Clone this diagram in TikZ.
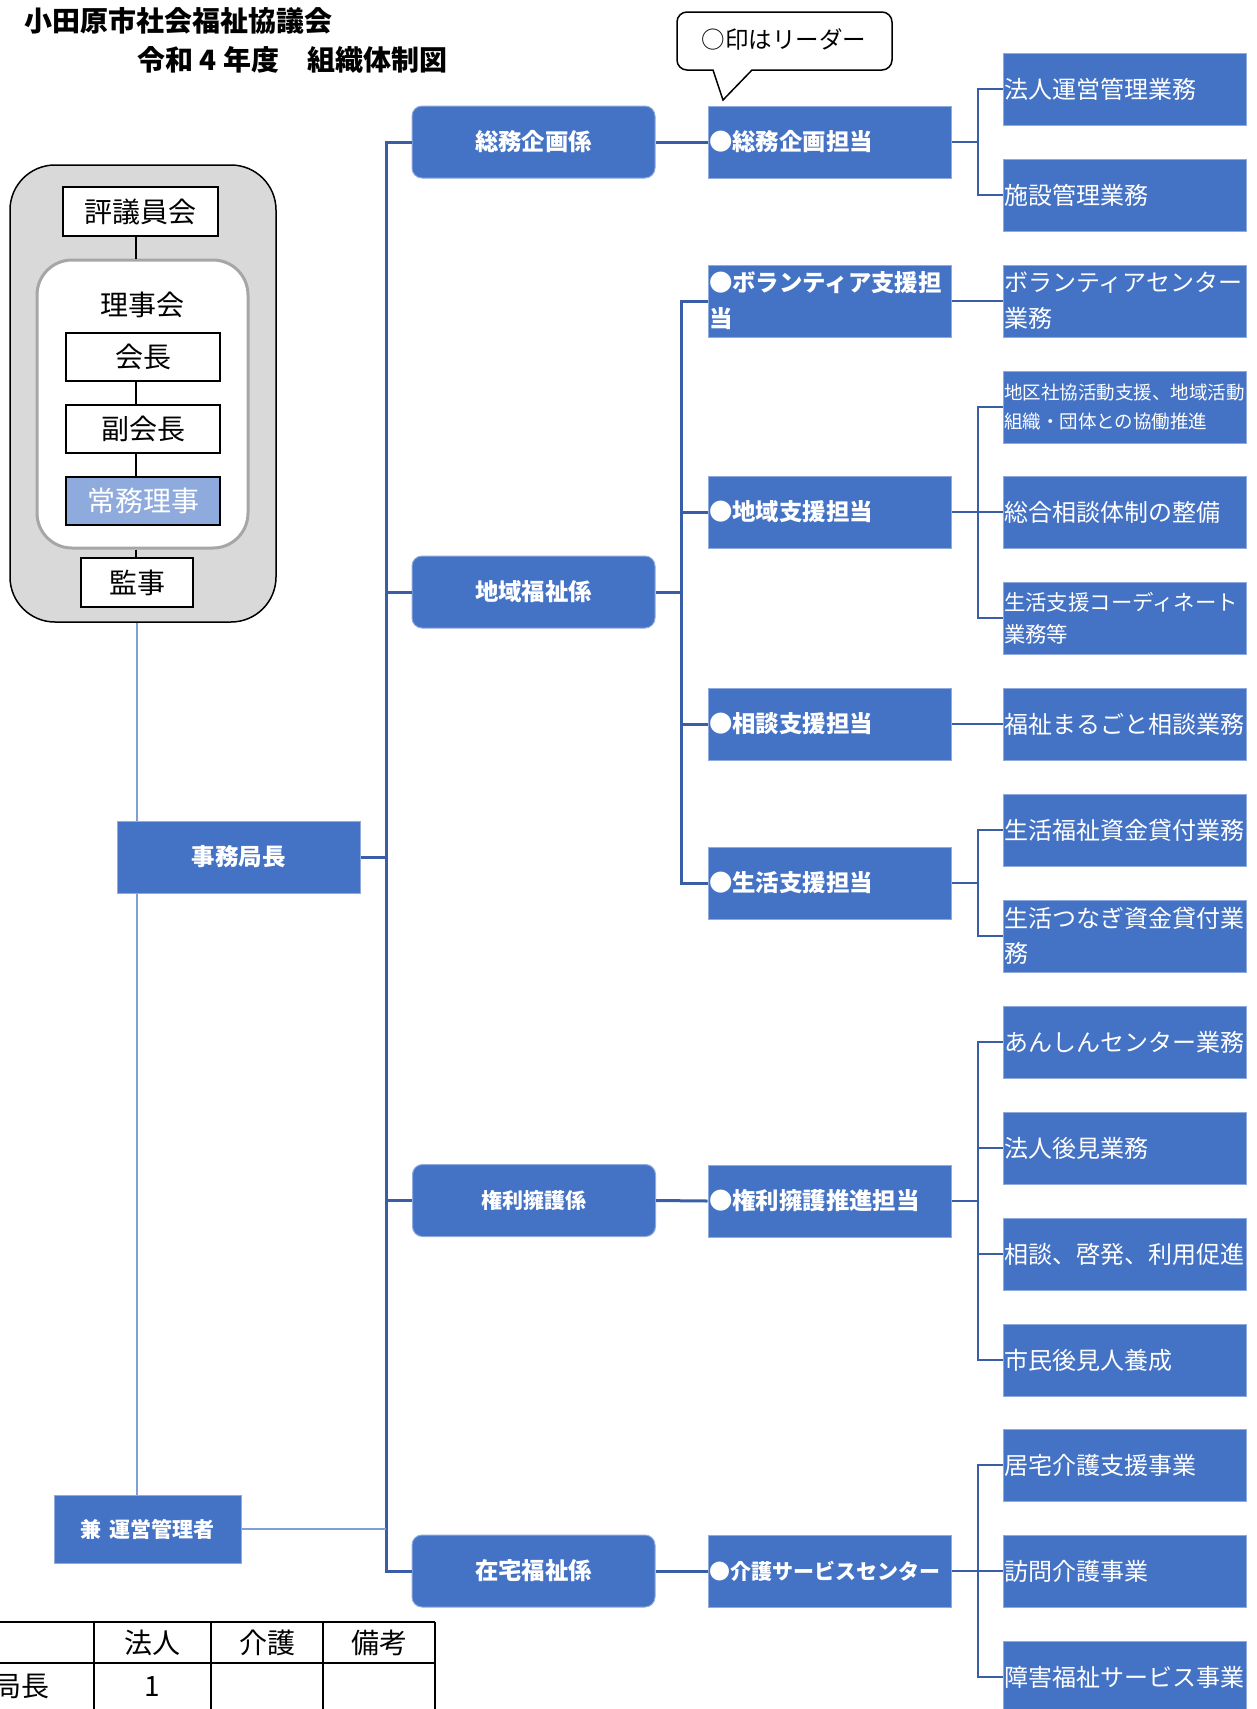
\documentclass[tikz,border=0pt]{standalone}
\usepackage{fontspec}
\newfontfamily\jp{Noto Sans CJK JP}
\definecolor{boxblue}{HTML}{4472C4}
\definecolor{edgeblue}{HTML}{8FAADC}
\definecolor{lineblue}{HTML}{3A5DA8}
\definecolor{paleblue}{HTML}{7F9FD9}
\definecolor{boardgray}{HTML}{D9D9D9}
\definecolor{rimgray}{HTML}{A6A6A6}
\tikzset{
  boardbox/.style={draw, fill=white, line width=1.5pt, inner sep=0pt,
    minimum width=154pt, minimum height=48pt, font=\jp\fontsize{28}{34}\selectfont},
  kakari/.style={draw=edgeblue, line width=1pt, fill=boxblue, rounded corners=10pt,
    text=white, minimum width=243pt, minimum height=72pt,
    font=\jp\bfseries\fontsize{23.4}{30}\selectfont},
  tanto/.style={draw=edgeblue, line width=1pt, fill=boxblue, text=white,
    minimum width=243pt, minimum height=72pt, text width=241pt, inner xsep=1pt,
    align=left, font=\jp\bfseries\fontsize{23.4}{36}\selectfont},
  gyomu/.style={tanto, font=\jp\fontsize{24}{36}\selectfont},
  link/.style={draw=lineblue, line width=3pt},
  sublink/.style={draw=lineblue, line width=2.5pt},
  thinlink/.style={draw=paleblue, line width=1.5pt},
  cell/.style={font=\jp\fontsize{28}{34}\selectfont, inner sep=0pt}
}
\begin{document}
\begin{tikzpicture}[x=1pt,y=-1pt]
  \useasboundingbox (0,0) rectangle (1257,1709);
  \clip (0,0) rectangle (1257,1709);
  \node [anchor=west, inner sep=0pt, font=\jp\bfseries\fontsize{28}{34}\selectfont] (title) at (24,21) {小田原市社会福祉協議会};
  \node [anchor=west, inner sep=0pt, font=\jp\bfseries\fontsize{28}{34}\selectfont] (subtitle) at (137,60) {令和 4 年度　組織体制図};

  \node [draw, fill=boardgray, line width=1.5pt, rounded corners=45pt, minimum width=266pt, minimum height=457pt] (board) at (143,393.5) {};
  \node [boardbox, minimum width=155pt, minimum height=49pt] (hyogi) at (140.5,211.5) {評議員会};
  \node [draw=rimgray, fill=white, line width=3pt, rounded corners=35pt, minimum width=211pt, minimum height=288pt] (riji) at (142.5,404) {};
  \node [cell] (rijikai) at (142,305) {理事会};
  \node [boardbox] (kaicho) at (143,357) {会長};
  \node [boardbox] (fuku) at (143,429) {副会長};
  \node [boardbox, fill=edgeblue, text=white] (jomu) at (143,501) {常務理事};
  \node [boardbox, minimum width=112pt, minimum height=49pt] (kanji) at (137,582.5) {監事};
  \coordinate (boardline) at (136,0);
  \draw [line width=1.5pt] (hyogi.south -| boardline) -- (riji.north -| boardline);
  \draw [line width=1.5pt] (kaicho.south -| boardline) -- (fuku.north -| boardline);
  \draw [line width=1.5pt] (fuku.south -| boardline) -- (jomu.north -| boardline);
  \draw [line width=1.5pt] (riji.south -| boardline) -- (kanji.north -| boardline);

  \node [kakari, rounded corners=0pt, font=\jp\bfseries\fontsize{23.5}{30}\selectfont] (jimu) at (238.5,857) {事務局長};
  \node [kakari, rounded corners=0pt, minimum width=187pt, minimum height=68pt, font=\jp\bfseries\fontsize{21}{26}\selectfont] (kenmu) at (147.5,1529) {兼\hspace{9pt}運営管理者};
  \coordinate (spine) at (137,0);
  \draw [thinlink] (board.south -| spine) -- (jimu.north -| spine);
  \draw [thinlink] (jimu.south -| spine) -- (kenmu.north -| spine);

  \node [kakari] (soumu) at (533.5,142) {総務企画係};
  \node [kakari] (chiiki) at (533.5,592) {地域福祉係};
  \node [kakari, font=\jp\bfseries\fontsize{21}{28}\selectfont] (kenri) at (534,1200.5) {権利擁護係};
  \node [kakari] (zaitaku) at (533.5,1571) {在宅福祉係};

  \node [tanto] (t-soumu) at (829.5,142) {●総務企画担当};
  \node [tanto] (t-vol) at (829.5,301) {●ボランティア支援担\\当};
  \node [tanto] (t-chiiki) at (829.5,512) {●地域支援担当};
  \node [tanto] (t-soudan) at (829.5,724) {●相談支援担当};
  \node [tanto] (t-seikatsu) at (829.5,883) {●生活支援担当};
  \node [tanto] (t-kenri) at (829.5,1201) {●権利擁護推進担当};
  \node [tanto, font=\jp\bfseries\fontsize{21}{28}\selectfont] (t-kaigo) at (829.5,1571) {●介護サービスセンター};

  \node [gyomu] (g-houjin) at (1124.5,89) {法人運営管理業務};
  \node [gyomu] (g-shisetsu) at (1124.5,195) {施設管理業務};
  \node [gyomu] (g-vol) at (1124.5,301) {ボランティアセンター\\業務};
  \node [gyomu, font=\jp\fontsize{18.5}{29}\selectfont] (g-chiku) at (1124.5,407) {地区社協活動支援、地域活動\\組織・団体との協働推進};
  \node [gyomu] (g-sougou) at (1124.5,512) {総合相談体制の整備};
  \node [gyomu, font=\jp\fontsize{21.4}{32}\selectfont] (g-coord) at (1124.5,618) {生活支援コーディネート\\業務等};
  \node [gyomu] (g-marugoto) at (1124.5,724) {福祉まるごと相談業務};
  \node [gyomu] (g-fukushi) at (1124.5,830) {生活福祉資金貸付業務};
  \node [gyomu, font=\jp\fontsize{24}{35}\selectfont] (g-tsunagi) at (1124.5,936) {生活つなぎ資金貸付業\\務};
  \node [gyomu] (g-anshin) at (1124.5,1042) {あんしんセンター業務};
  \node [gyomu] (g-kouken) at (1124.5,1148) {法人後見業務};
  \node [gyomu] (g-keihatsu) at (1124.5,1254) {相談、啓発、利用促進};
  \node [gyomu] (g-shimin) at (1124.5,1360) {市民後見人養成};
  \node [gyomu] (g-kyotaku) at (1124.5,1465) {居宅介護支援事業};
  \node [gyomu] (g-houmon) at (1124.5,1571) {訪問介護事業};
  \node [gyomu] (g-shougai) at (1124.5,1677) {障害福祉サービス事業};

  \coordinate (trunk) at (386,0);
  \coordinate (subtrunk) at (681,0);
  \coordinate (bracket) at (978,0);
  \draw [link] (soumu.west) -- (soumu.west -| trunk) -- (zaitaku.west -| trunk) -- (zaitaku.west);
  \draw [link] (chiiki.west) -- (chiiki.west -| trunk);
  \draw [link] (kenri.west) -- (kenri.west -| trunk);
  \draw [link] (jimu.east) -- (jimu.east -| trunk);
  \draw [thinlink] (kenmu.east) -- (kenmu.east -| trunk);

  \draw [link] (soumu.east) -- (t-soumu.west);
  \draw [link] (kenri.east) -- (t-kenri.west);
  \draw [link] (zaitaku.east) -- (t-kaigo.west);
  \draw [link] (chiiki.east) -- (chiiki.east -| subtrunk);
  \draw [link] (t-vol.west) -- (t-vol.west -| subtrunk) -- (t-seikatsu.west -| subtrunk) -- (t-seikatsu.west);
  \draw [link] (t-chiiki.west) -- (t-chiiki.west -| subtrunk);
  \draw [link] (t-soudan.west) -- (t-soudan.west -| subtrunk);

  \draw [sublink] (t-soumu.east) -- (t-soumu.east -| bracket);
  \draw [sublink] (g-houjin.west) -- (g-houjin.west -| bracket) -- (g-shisetsu.west -| bracket) -- (g-shisetsu.west);
  \draw [sublink] (t-vol.east) -- (g-vol.west);
  \draw [sublink] (t-chiiki.east) -- (g-sougou.west);
  \draw [sublink] (g-chiku.west) -- (g-chiku.west -| bracket) -- (g-coord.west -| bracket) -- (g-coord.west);
  \draw [sublink] (t-soudan.east) -- (g-marugoto.west);
  \draw [sublink] (t-seikatsu.east) -- (t-seikatsu.east -| bracket);
  \draw [sublink] (g-fukushi.west) -- (g-fukushi.west -| bracket) -- (g-tsunagi.west -| bracket) -- (g-tsunagi.west);
  \draw [sublink] (t-kenri.east) -- (t-kenri.east -| bracket);
  \draw [sublink] (g-anshin.west) -- (g-anshin.west -| bracket) -- (g-shimin.west -| bracket) -- (g-shimin.west);
  \draw [sublink] (g-kouken.west) -- (g-kouken.west -| bracket);
  \draw [sublink] (g-keihatsu.west) -- (g-keihatsu.west -| bracket);
  \draw [sublink] (t-kaigo.east) -- (g-houmon.west);
  \draw [sublink] (g-kyotaku.west) -- (g-kyotaku.west -| bracket) -- (g-shougai.west -| bracket) -- (g-shougai.west);

  \draw [fill=white, line width=1.5pt] (713,70) -- (723,100) -- (752,70) [rounded corners=10pt] -- (892,70) -- (892,12) -- (677,12) -- (677,70) [sharp corners] -- cycle;
  \node [cell, font=\jp\fontsize{23.5}{30}\selectfont] (note) at (784,39) {○印はリーダー};

  \draw [line width=2pt] (0,1622) -- (435,1622);
  \draw [line width=2pt] (0,1663) -- (435,1663);
  \draw [line width=2pt] (94,1622) -- (94,1709);
  \draw [line width=2pt] (211,1622) -- (211,1709);
  \draw [line width=2pt] (323,1622) -- (323,1709);
  \draw [line width=2pt] (435,1622) -- (435,1709);
  \node [cell] (h-houjin) at (152.5,1643) {法人};
  \node [cell] (h-kaigo) at (267,1643) {介護};
  \node [cell] (h-bikou) at (379,1643) {備考};
  \node [cell, anchor=east] (r-jimu) at (50,1686) {事務局長};
  \node [cell] (r-houjin) at (152.5,1686) {1};
\end{tikzpicture}
\end{document}
